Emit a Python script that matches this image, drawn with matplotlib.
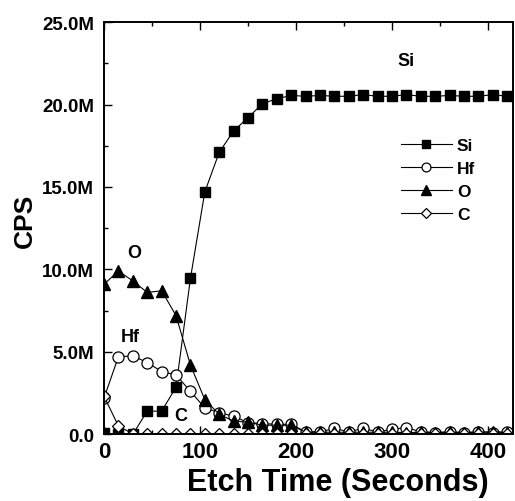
import numpy as np
import matplotlib
matplotlib.use("Agg")
import matplotlib.pyplot as plt
from matplotlib.ticker import MultipleLocator

plt.rcParams["font.family"] = ["Liberation Sans", "DejaVu Sans"]
plt.rcParams["font.weight"] = "bold"

# ---- data (counts per second, millions) ----
etch_time = list(range(0, 421, 15))
si = [0.05, 0.0, 0.0, 1.4, 1.4, 2.85, 9.45, 14.7, 17.1, 18.4, 19.2, 20.05, 20.35, 20.55,
      20.5, 20.55, 20.5, 20.5, 20.6, 20.5, 20.5, 20.6, 20.5, 20.5, 20.55, 20.5, 20.5, 20.6, 20.5]
hf = [2.2, 4.7, 4.75, 4.35, 3.8, 3.6, 2.6, 1.6, 1.3, 1.1, 0.7, 0.65, 0.6, 0.6,
      0.15, 0.15, 0.35, 0.15, 0.35, 0.15, 0.3, 0.4, 0.15, 0.1, 0.15, 0.1, 0.15, 0.1, 0.15]
o = [9.1, 9.9, 9.3, 8.6, 8.7, 7.2, 4.2, 2.1, 1.2, 0.8, 0.73, 0.55, 0.55, 0.55,
     0.12, 0.12, 0.12, 0.12, 0.12, 0.12, 0.12, 0.1, 0.12, 0.1, 0.12, 0.1, 0.12, 0.15, 0.1]
c = [2.3, 0.5, 0.02, 0.0, 0.0, 0.0, 0.0, 0.0, 0.0, 0.0, 0.0, 0.0, 0.0, 0.0,
     0.0, 0.0, 0.0, 0.0, 0.0, 0.0, 0.0, 0.0, 0.0, 0.0, 0.0, 0.0, 0.0, 0.0, 0.0]

y_ticks = [0, 5e6, 10e6, 15e6, 20e6, 25e6]
y_tick_labels = ["0.0", "5.0M", "10.0M", "15.0M", "20.0M", "25.0M"]

t = np.array(etch_time)
scale = 1e6

fig = plt.figure(figsize=(5.15, 5.02), dpi=100)
ax = fig.add_axes([0.202, 0.133, 0.794, 0.821])

ax.plot(t, np.array(si) * scale, color="black", lw=0.8, marker="s", ms=7.5,
        mfc="black", mec="black", label="Si")
ax.plot(t, np.array(hf) * scale, color="black", lw=0.8, marker="o", ms=8,
        mfc="white", mec="black", mew=0.9, label="Hf")
ax.plot(t, np.array(o) * scale, color="black", lw=0.8, marker="^", ms=8.5,
        mfc="black", mec="black", label="O")
ax.plot(t, np.array(c) * scale, color="black", lw=0.8, marker="D", ms=6.5,
        mfc="white", mec="black", mew=0.9, label="C")

ax.set_xlim(0, 426)
ax.set_ylim(0, 25e6)
ax.set_xticks([0, 100, 200, 300, 400])
ax.xaxis.set_minor_locator(MultipleLocator(50))
ax.set_yticks(y_ticks)
ax.set_yticklabels(y_tick_labels)
ax.yaxis.set_minor_locator(MultipleLocator(2.5e6))

ax.tick_params(which="both", direction="in", top=True, right=False, width=1)
ax.tick_params(which="major", length=6)
ax.tick_params(which="minor", length=3)
ax.tick_params(axis="x", labelsize=16, pad=5)
ax.tick_params(axis="y", labelsize=13.5, pad=7)
for lbl in ax.get_xticklabels() + ax.get_yticklabels():
    lbl.set_fontweight("bold")
for sp in ax.spines.values():
    sp.set_linewidth(1.4)

ax.set_xlabel("Etch Time (Seconds)", fontsize=22, fontweight="bold")
ax.set_ylabel("CPS", fontsize=19, fontweight="bold")
ax.xaxis.set_label_coords(0.572, -0.08)
ax.yaxis.set_label_coords(-0.165, 0.52)

# ---- annotations ----
ax.text(315, 22.7e6, "Si", fontsize=13, fontweight="bold", ha="center", va="center")
ax.text(31, 11.0e6, "O", fontsize=13, fontweight="bold", ha="center", va="center")
ax.text(27, 5.9e6, "Hf", fontsize=13, fontweight="bold", ha="center", va="center")
ax.text(80, 1.15e6, "C", fontsize=13, fontweight="bold", ha="center", va="center")

leg = ax.legend(loc="upper left", bbox_to_anchor=(0.71, 0.735), frameon=False,
                fontsize=12.5, handlelength=2.9, labelspacing=0.45, handletextpad=0.3,
                borderaxespad=0, markerscale=0.8)
for txt in leg.get_texts():
    txt.set_fontweight("bold")

fig.savefig("out.png", dpi=100)
